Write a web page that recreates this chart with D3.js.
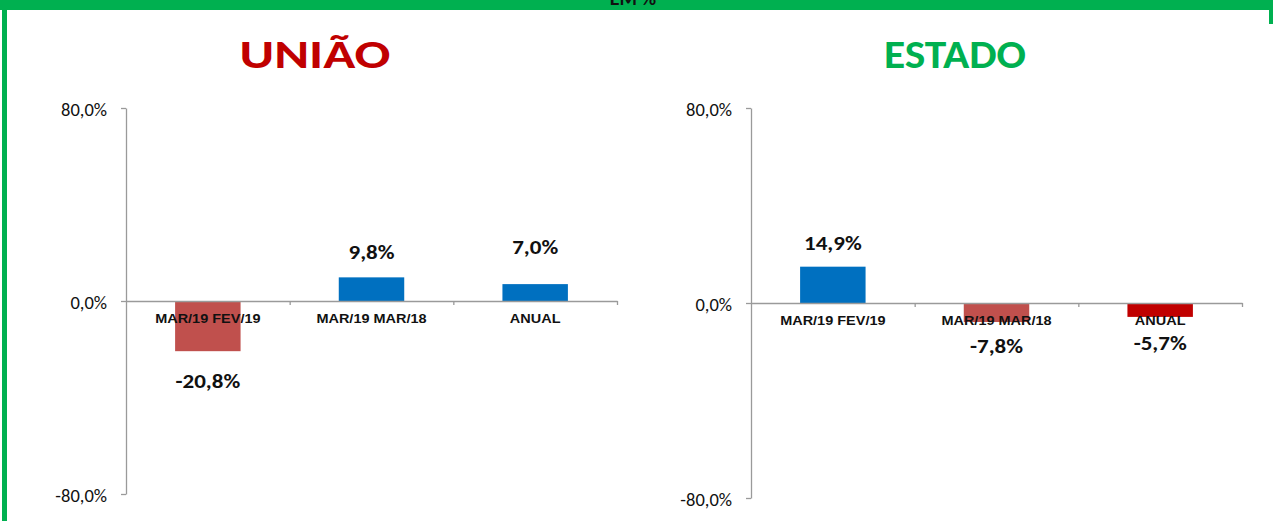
<!DOCTYPE html>
<html>
<head>
<meta charset="utf-8">
<script src="https://cdn.jsdelivr.net/npm/d3@7"></script>
<style>
  html, body { margin: 0; padding: 0; background: #fff; }
  svg { display: block; }
  .axis path, .axis line { stroke: #9a9a9a; stroke-width: 1.3; }
</style>
</head>
<body>
<div id="chart"></div>
<script>
// Two side-by-side bar panels: variation in % for União and Estado.

const categories = ["MAR/19 FEV/19", "MAR/19 MAR/18", "ANUAL"];
const uniaoValues = [-20.8, 9.8, 7.0];
const estadoValues = [14.9, -7.8, -5.7];
const yTickValues = [-80, 0, 80];
const panelTitles = ["UNIÃO", "ESTADO"];
const headerText = "EM %";

const W = 1273, H = 521;
const GREEN = "#00B050";
const CAL = "Carlito, Calibri, Lato, sans-serif";
const ARIAL = "'Liberation Sans', Arial, sans-serif";
const SX = 1.15; // source picture is stretched a bit horizontally

const fmt = d => d.toFixed(1).replace(".", ",") + "%";

const svg = d3.select("#chart").append("svg")
  .attr("width", W).attr("height", H);

// green frame (only the top band and the sides are visible)
svg.append("rect").attr("x", 0).attr("y", 0).attr("width", W).attr("height", 10).attr("fill", GREEN);
svg.append("rect").attr("x", 2).attr("y", 0).attr("width", 5).attr("height", H).attr("fill", GREEN);
svg.append("rect").attr("x", W - 4).attr("y", 0).attr("width", 4).attr("height", 24).attr("fill", GREEN);
svg.append("text")
  .attr("x", 633).attr("y", 5)
  .attr("text-anchor", "middle")
  .attr("font-family", CAL).attr("font-weight", "bold").attr("font-size", 20)
  .attr("fill", "#111")
  .text(headerText);

function stretchedText(g, x, y, sx) {
  return g.append("text").attr("transform", `translate(${x},${y}) scale(${sx},1)`);
}

const panels = [
  {
    title: panelTitles[0], titleColor: "#C00000", titleX: 315, titleW: 151,
    values: uniaoValues,
    colors: ["#C0504D", "#0070C0", "#0070C0"],
    labelGap: [37, 18, 30],
    x0: 126, x1: 617, yTop: 108, yBot: 494
  },
  {
    title: panelTitles[1], titleColor: GREEN, titleX: 955, titleW: 142,
    values: estadoValues,
    colors: ["#0070C0", "#C0504D", "#C00000"],
    labelGap: [17, 31, 33],
    x0: 751, x1: 1242, yTop: 108, yBot: 498
  }
];

panels.forEach(p => {
  const g = svg.append("g");

  g.append("text")
    .attr("x", p.titleX - p.titleW / 2).attr("y", 68)
    .attr("textLength", p.titleW).attr("lengthAdjust", "spacingAndGlyphs")
    .attr("font-family", CAL).attr("font-weight", "bold").attr("font-size", 40)
    .attr("fill", p.titleColor)
    .text(p.title);

  const y = d3.scaleLinear().domain([-80, 80]).range([p.yBot, p.yTop]);
  const x = d3.scaleBand().domain(categories).range([p.x0, p.x1])
    .paddingInner(0.6).paddingOuter(0.3);
  const xEdges = d3.scaleLinear().domain([0, categories.length]).range([p.x0, p.x1]);

  // bars
  g.selectAll("rect.bar").data(p.values).join("rect")
    .attr("class", "bar")
    .attr("x", (d, i) => x(categories[i]))
    .attr("width", x.bandwidth())
    .attr("y", d => y(Math.max(0, d)))
    .attr("height", d => Math.abs(y(d) - y(0)))
    .attr("fill", (d, i) => p.colors[i]);

  // y axis
  const gy = g.append("g").attr("class", "axis")
    .attr("transform", `translate(${p.x0},0)`)
    .call(d3.axisLeft(y).tickValues(yTickValues).tickSize(5).tickSizeOuter(0).tickPadding(14).tickFormat(fmt));
  gy.selectAll("text")
    .attr("font-family", CAL).attr("font-size", 18.5).attr("fill", "#111")
    .attr("dy", "0.38em");

  // x axis at zero, ticks on category boundaries
  const gx = g.append("g").attr("class", "axis")
    .attr("transform", `translate(0,${y(0)})`)
    .call(d3.axisBottom(xEdges).tickValues(d3.range(categories.length + 1)).tickSize(4).tickSizeOuter(0).tickFormat(""));
  gx.select(".tick").remove();

  // category labels
  categories.forEach((c, i) => {
    stretchedText(g, x(c) + x.bandwidth() / 2, y(0) + 22, SX)
      .attr("text-anchor", "middle")
      .attr("font-family", ARIAL).attr("font-weight", "bold").attr("font-size", 12.6)
      .attr("fill", "#111")
      .text(c);
  });

  // value labels
  p.values.forEach((v, i) => {
    const c = categories[i];
    const ly = v >= 0 ? y(v) - p.labelGap[i] : y(v) + p.labelGap[i];
    stretchedText(g, x(c) + x.bandwidth() / 2, ly, SX)
      .attr("text-anchor", "middle")
      .attr("font-family", CAL).attr("font-weight", "bold").attr("font-size", 20)
      .attr("fill", "#111")
      .text(fmt(v));
  });
});
</script>
</body>
</html>
